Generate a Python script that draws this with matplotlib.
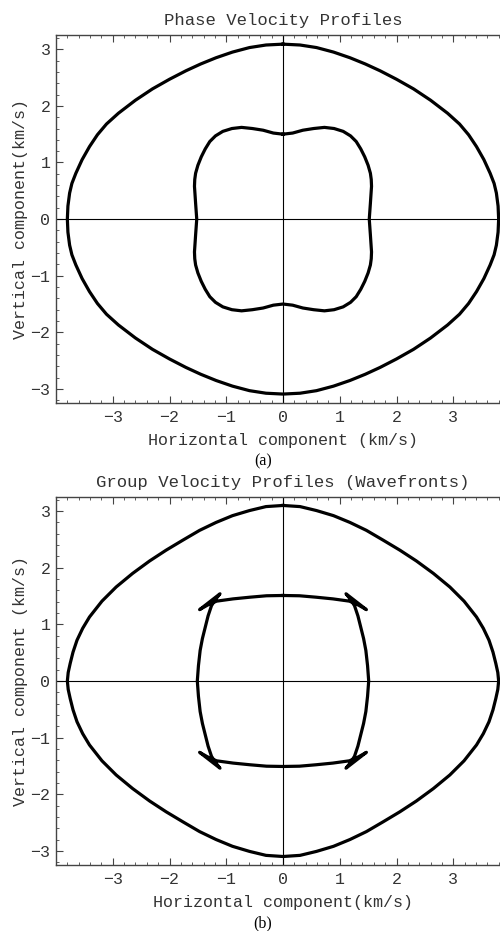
import numpy as np
import matplotlib
matplotlib.use("Agg")
import matplotlib.pyplot as plt
from matplotlib.ticker import MultipleLocator

# first-quadrant samples (km/s), mirrored into the other quadrants
phase_outer_x = [0.00, 0.30, 0.59, 0.89, 1.18, 1.45, 1.71, 2.00, 2.30, 2.60,
                 2.90, 3.11, 3.27, 3.41, 3.54, 3.65, 3.72, 3.76, 3.79, 3.80]
phase_outer_y = [3.09, 3.075, 3.03, 2.95, 2.85, 2.74, 2.62, 2.47, 2.30, 2.10,
                 1.87, 1.68, 1.49, 1.28, 1.05, 0.81, 0.63, 0.46, 0.23, 0.00]

phase_inner_x = [0.00, 0.17, 0.35, 0.54, 0.73, 0.90, 1.06, 1.19, 1.29, 1.37,
                 1.44, 1.50, 1.54, 1.555, 1.56, 1.55, 1.54, 1.53, 1.52]
phase_inner_y = [1.50, 1.52, 1.57, 1.60, 1.62, 1.60, 1.55, 1.47, 1.37, 1.24,
                 1.10, 0.95, 0.81, 0.70, 0.58, 0.43, 0.28, 0.14, 0.00]

group_outer_x = [0.00, 0.30, 0.59, 0.89, 1.18, 1.47, 1.76, 2.06, 2.35, 2.65,
                 2.94, 3.19, 3.41, 3.53, 3.63, 3.70, 3.75, 3.785, 3.80]
group_outer_y = [3.10, 3.08, 3.01, 2.92, 2.80, 2.66, 2.49, 2.31, 2.12, 1.90,
                 1.66, 1.41, 1.13, 0.93, 0.72, 0.51, 0.31, 0.15, 0.00]

# inner wavefront: top branch -> cusp tip -> second cusp tip -> side branch
group_inner_x = [0.00, 0.29, 0.58, 0.88, 1.17, 1.33, 1.47,
                 1.11, 1.19, 1.26, 1.32, 1.37, 1.42, 1.46, 1.49, 1.51]
group_inner_y = [1.51, 1.505, 1.48, 1.45, 1.41, 1.34, 1.26,
                 1.54, 1.44, 1.33, 1.15, 0.95, 0.75, 0.54, 0.27, 0.00]

ticks = [-3, -2, -1, 0, 1, 2, 3]


def full(qx, qy):
    qx = np.array(qx)
    qy = np.array(qy)
    x = np.concatenate([qx, qx[::-1], -qx, -qx[::-1]])
    y = np.concatenate([qy, -qy[::-1], -qy, qy[::-1]])
    return x, y


mono = "Liberation Mono"
grey = "#333333"

fig = plt.figure(figsize=(5.0, 9.31), dpi=100)


def panel(rect, curves, title, xlabel, ylabel, caption, cap_y):
    ax = fig.add_axes(rect)
    for qx, qy in curves:
        x, y = full(qx, qy)
        ax.plot(x, y, color="black", lw=2.3, solid_joinstyle="round")
    ax.axhline(0, color="black", lw=0.8)
    ax.axvline(0, color="black", lw=0.8)
    ax.set_xlim(-4.0, 4.0)
    ax.set_ylim(-3.25, 3.25)
    ax.set_xticks(ticks)
    ax.set_yticks(ticks)
    ax.xaxis.set_minor_locator(MultipleLocator(0.2))
    ax.yaxis.set_minor_locator(MultipleLocator(0.2))
    ax.tick_params(which="both", direction="in", top=True, right=True,
                   colors="#444444", labelcolor=grey)
    ax.tick_params(which="major", length=5, width=0.8, labelsize=12)
    ax.tick_params(which="minor", length=2.5, width=0.6)
    ax.tick_params(axis="x", pad=5)
    ax.tick_params(axis="y", pad=4)
    for lab in ax.get_xticklabels() + ax.get_yticklabels():
        lab.set_family(mono)
    for s in ax.spines.values():
        s.set_color("#444444")
        s.set_linewidth(1.0)
    # title centred on the visible part of the figure
    fig.text(0.566, rect[1] + rect[3] + 0.008, title, family=mono, fontsize=12.4,
             color=grey, ha="center", va="bottom")
    fig.text(0.566, rect[1] - 0.032, xlabel, family=mono, fontsize=12,
             color=grey, ha="center", va="top")
    ax.set_ylabel(ylabel, family=mono, fontsize=12, color=grey, labelpad=2)
    fig.text(0.526, cap_y, caption, family="Liberation Serif", fontsize=11.5,
             ha="center", va="center")
    return ax


panel([0.112, 0.567, 0.908, 0.3953],
      [(phase_outer_x, phase_outer_y), (phase_inner_x, phase_inner_y)],
      "Phase Velocity Profiles", "Horizontal component (km/s)",
      "Vertical component(km/s)", "(a)", 1 - 461 / 931)

panel([0.112, 0.0709, 0.908, 0.3953],
      [(group_outer_x, group_outer_y), (group_inner_x, group_inner_y)],
      "Group Velocity Profiles (Wavefronts)", "Horizontal component(km/s)",
      "Vertical component (km/s)", "(b)", 1 - 923 / 931)

fig.savefig("out.png", dpi=100)
